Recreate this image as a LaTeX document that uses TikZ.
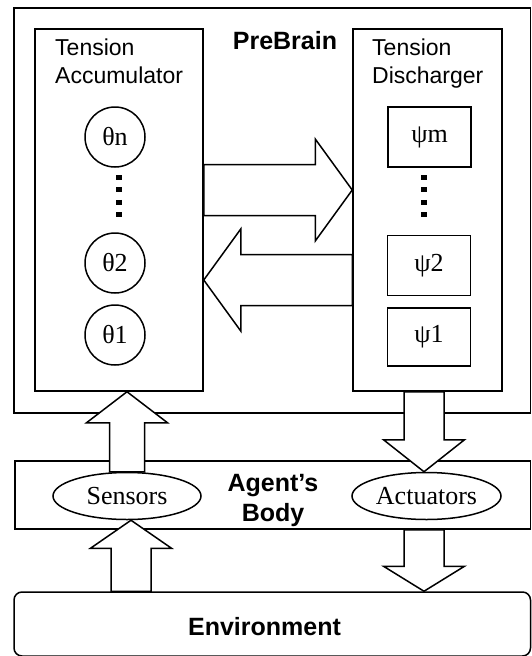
\documentclass[tikz,border=0pt]{standalone}
\usepackage{fontspec}
\setmainfont{Liberation Serif}
\newfontfamily\arialfont{Liberation Sans}
\usetikzlibrary{calc,shapes.geometric}

% block arrow between two named points: from, to, half shaft, half head, head length
\newcommand{\fatarrow}[5]{%
  \coordinate (fa-h) at ($(#2)!#5!(#1)$);
  \draw[fatline] ($(#1)!#3!90:(#2)$) -- ($(fa-h)!#3!90:(#2)$) -- ($(fa-h)!#4!90:(#2)$) -- (#2)
    -- ($(fa-h)!#4!-90:(#2)$) -- ($(fa-h)!#3!-90:(#2)$) -- ($(#1)!#3!-90:(#2)$) -- cycle;
}

\begin{document}
\begin{tikzpicture}[x=1pt, y=-1pt,
    box/.style={draw, line width=1.5pt, inner sep=0pt},
    sanslbl/.style={inner sep=0pt, align=left, font=\arialfont\fontsize{23}{28}\selectfont},
    boldlbl/.style={inner sep=0pt, align=center, font=\arialfont\bfseries\fontsize{25}{30}\selectfont},
    tcirc/.style={box, circle, minimum size=60pt, font=\fontsize{26}{30}\selectfont},
    pbox/.style={box, minimum width=83pt, minimum height=60pt, font=\fontsize{26}{30}\selectfont},
    organ/.style={box, ellipse, minimum width=148pt, minimum height=47pt, font=\fontsize{26}{30}\selectfont},
    vdots/.style={line width=6pt, dash pattern=on 4.7pt off 7.7pt},
    fatline/.style={draw, fill=white, line width=1.5pt, line join=miter}]
  \useasboundingbox (0,0) rectangle (532,656);

  % PreBrain
  \node[box, minimum width=516.5pt, minimum height=405pt] (pre) at (272.25,210.5) {};
  \node[box, minimum width=168pt, minimum height=362pt] (acc) at (119,210) {};
  \node[box, minimum width=149pt, minimum height=362pt] (dis) at (427.5,210) {};
  \node[boldlbl] (prel) at (285,41) {PreBrain};
  \node[sanslbl, anchor=north west] (accl) at (55,38.5) {Tension\\Accumulator};
  \node[sanslbl, anchor=north west] (disl) at (372,38.5) {Tension\\Discharger};

  % tensions
  \node[tcirc] (tn) at (115,137) {θn};
  \node[tcirc] (t2) at (115,263) {θ2};
  \node[tcirc] (t1) at (115,335) {θ1};
  \draw[vdots] (118.5,175) -- (118.5,217);

  % dischargers
  \node[pbox] (pm) at (429.5,137) {ψm};
  \node[pbox] (p2) at (429,265.5) {ψ2};
  \node[pbox, minimum height=58pt] (p1) at (429,337) {ψ1};
  \draw[vdots] (424,175) -- (424,217);

  % Agent's body
  \node[box, minimum width=515.5pt, minimum height=68pt] (body) at (272.75,495) {};
  \node[boldlbl, anchor=north] (bodyl) at (273,474) {Agent’s\\Body};
  \node[organ] (sen) at (127,496) {Sensors};
  \node[organ, minimum width=149pt] (act) at (426.5,496) {Actuators};

  % Environment
  \node[box, rounded corners=8pt, minimum width=516.5pt, minimum height=64pt] (env) at (272.25,624) {};
  \node[boldlbl, anchor=base] (envl) at (264.5,635) {Environment};

  % arrow ends
  \coordinate (a1s) at ($(acc.east)+(0,-20)$);
  \coordinate (a1e) at ($(dis.west)+(0,-20)$);
  \coordinate (a2s) at ($(dis.west)+(0,70)$);
  \coordinate (a2e) at ($(acc.east)+(0,70)$);
  \coordinate (a3e) at (acc.south -| sen.north);
  \coordinate (a4e) at ($(act.north)+(-2.5,0)$);
  \coordinate (a4s) at (dis.south -| a4e);
  \coordinate (a5e) at ($(sen.south)+(4,0)$);
  \coordinate (a5s) at (env.north -| a5e);
  \coordinate (a6s) at (body.south -| a4e);
  \coordinate (a6e) at (env.north -| a4e);

  \fatarrow{a1s}{a1e}{25.5pt}{51pt}{37pt}
  \fatarrow{a2s}{a2e}{25.5pt}{51pt}{37pt}
  \fatarrow{sen.north}{a3e}{17.5pt}{40.5pt}{31pt}
  \fatarrow{a4s}{a4e}{20pt}{40.5pt}{32pt}
  \fatarrow{a5s}{a5e}{20pt}{40.5pt}{28pt}
  \fatarrow{a6s}{a6e}{20pt}{40.5pt}{25pt}
\end{tikzpicture}
\end{document}
